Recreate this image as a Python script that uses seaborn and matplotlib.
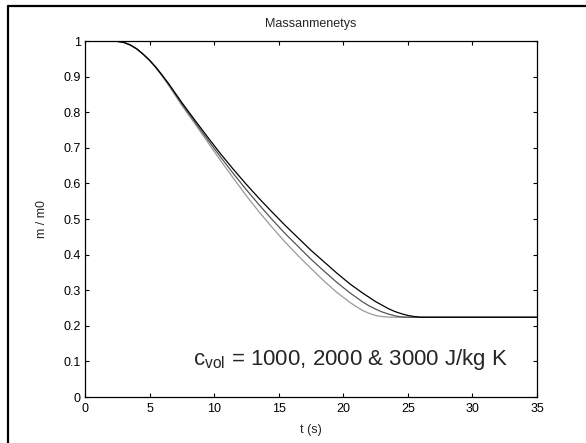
import numpy as np
import pandas as pd
import matplotlib
matplotlib.use("Agg")
import matplotlib.pyplot as plt
import seaborn as sns
from matplotlib.lines import Line2D

# --- data ---
t_light = [0, 2.0, 2.5, 3.0, 3.5, 4.0, 4.5, 5.0, 5.5, 6.0, 6.5, 7.5, 8.5, 9.5, 10.5, 11.5,
           12.5, 13.5, 14.5, 15.5, 16.5, 17.5, 18.5, 19.5, 20.5, 21.0, 21.5, 22.0, 22.5,
           23.0, 23.5, 24, 35]
m_light = [1.0, 1.0, 0.999, 0.996, 0.989, 0.978, 0.963, 0.945, 0.924, 0.900, 0.874, 0.819,
           0.768, 0.716, 0.664, 0.614, 0.565, 0.519, 0.476, 0.435, 0.397, 0.361, 0.326,
           0.294, 0.266, 0.254, 0.243, 0.235, 0.229, 0.226, 0.2245, 0.224, 0.224]

t_mid = [0, 2.0, 2.5, 3.0, 3.5, 4.0, 4.5, 5.0, 5.5, 6.0, 6.5, 7.5, 8.5, 9.5, 10.5, 11.5,
         12.5, 13.5, 14.5, 15.5, 16.5, 17.5, 18.5, 19.5, 20.5, 21.5, 22.0, 22.5, 23.0,
         23.5, 24.0, 24.5, 25, 35]
m_mid = [1.0, 1.0, 0.999, 0.996, 0.989, 0.978, 0.963, 0.946, 0.925, 0.902, 0.877, 0.823,
         0.773, 0.723, 0.674, 0.627, 0.582, 0.539, 0.498, 0.459, 0.423, 0.387, 0.354,
         0.322, 0.293, 0.267, 0.256, 0.247, 0.239, 0.233, 0.228, 0.225, 0.224, 0.224]

t_dark = [0, 2.0, 2.5, 3.0, 3.5, 4.0, 4.5, 5.0, 5.5, 6.0, 6.5, 7.5, 8.5, 9.5, 10.5, 11.5,
          12.5, 13.5, 14.5, 15.5, 16.5, 17.5, 18.5, 19.5, 20.5, 21.5, 22.5, 23.0, 23.5,
          24.0, 24.5, 25.0, 25.5, 26, 35]
m_dark = [1.0, 1.0, 0.999, 0.996, 0.989, 0.978, 0.963, 0.946, 0.926, 0.903, 0.879, 0.827,
          0.778, 0.730, 0.683, 0.639, 0.597, 0.557, 0.519, 0.482, 0.447, 0.412, 0.380,
          0.348, 0.318, 0.292, 0.268, 0.258, 0.248, 0.240, 0.234, 0.229, 0.226, 0.224,
          0.224]

series_names = ["1000", "2000", "3000"]
series_colors = ["#999999", "#555555", "#000000"]

x_ticks = [0, 5, 10, 15, 20, 25, 30, 35]
y_ticks = [0, 0.1, 0.2, 0.3, 0.4, 0.5, 0.6, 0.7, 0.8, 0.9, 1]
y_ticklabels = ["0", "0.1", "0.2", "0.3", "0.4", "0.5", "0.6", "0.7", "0.8", "0.9", "1"]

title = "Massanmenetys"
xlabel = "t (s)"
ylabel = "m / m0"
annotation = r"c$_{\mathrm{vol}}$ = 1000, 2000 & 3000 J/kg K"

# --- build table ---
frames = []
for name, tt, mm in zip(series_names, [t_light, t_mid, t_dark], [m_light, m_mid, m_dark]):
    frames.append(pd.DataFrame({"t": tt, "m": mm, "c": name}))
df = pd.concat(frames, ignore_index=True)

sns.set_theme(style="ticks")
plt.rcParams["font.family"] = ["Liberation Sans", "DejaVu Sans"]
plt.rcParams["mathtext.fontset"] = "custom"
plt.rcParams["mathtext.rm"] = "Liberation Sans"
plt.rcParams["mathtext.it"] = "Liberation Sans"
plt.rcParams["mathtext.bf"] = "Liberation Sans"

fig = plt.figure(figsize=(5.86, 4.43), dpi=100)
fig.patch.set_facecolor("white")
ax = fig.add_axes([85 / 586, 1 - 397 / 443, (537 - 85) / 586, (397 - 41) / 443])

sns.lineplot(data=df, x="t", y="m", hue="c", palette=dict(zip(series_names, series_colors)),
             linewidth=0.9, legend=False, ax=ax, sort=False, estimator=None)

ax.set_xlim(0, 35)
ax.set_ylim(0, 1)
ax.set_xticks(x_ticks)
ax.set_xticklabels([str(v) for v in x_ticks])
ax.set_yticks(y_ticks)
ax.set_yticklabels(y_ticklabels)
ax.tick_params(direction="in", length=3, width=0.8, labelsize=9, colors="black",
               top=True, right=True)
ax.tick_params(axis="x", pad=4)
ax.tick_params(axis="y", pad=3)
for s in ax.spines.values():
    s.set_visible(True)
    s.set_linewidth(0.9)
    s.set_color("black")
ax.set_facecolor("white")
ax.grid(False)

ax.set_title(title, fontsize=9, pad=10)
ax.set_xlabel(xlabel, fontsize=9, labelpad=7)
ax.set_ylabel(ylabel, fontsize=9, labelpad=11)

ax.text(8.4, 0.09, annotation, fontsize=16, ha="left", va="baseline")

# figure frame (left and top edges visible in reference)
fig.add_artist(Line2D([7.5 / 586, 7.5 / 586], [0, 1 - 5.5 / 443], transform=fig.transFigure,
                      color="black", linewidth=1.6))
fig.add_artist(Line2D([7.5 / 586, 1], [1 - 5.5 / 443, 1 - 5.5 / 443], transform=fig.transFigure,
                      color="black", linewidth=1.6))

fig.savefig("out.png", dpi=100)
